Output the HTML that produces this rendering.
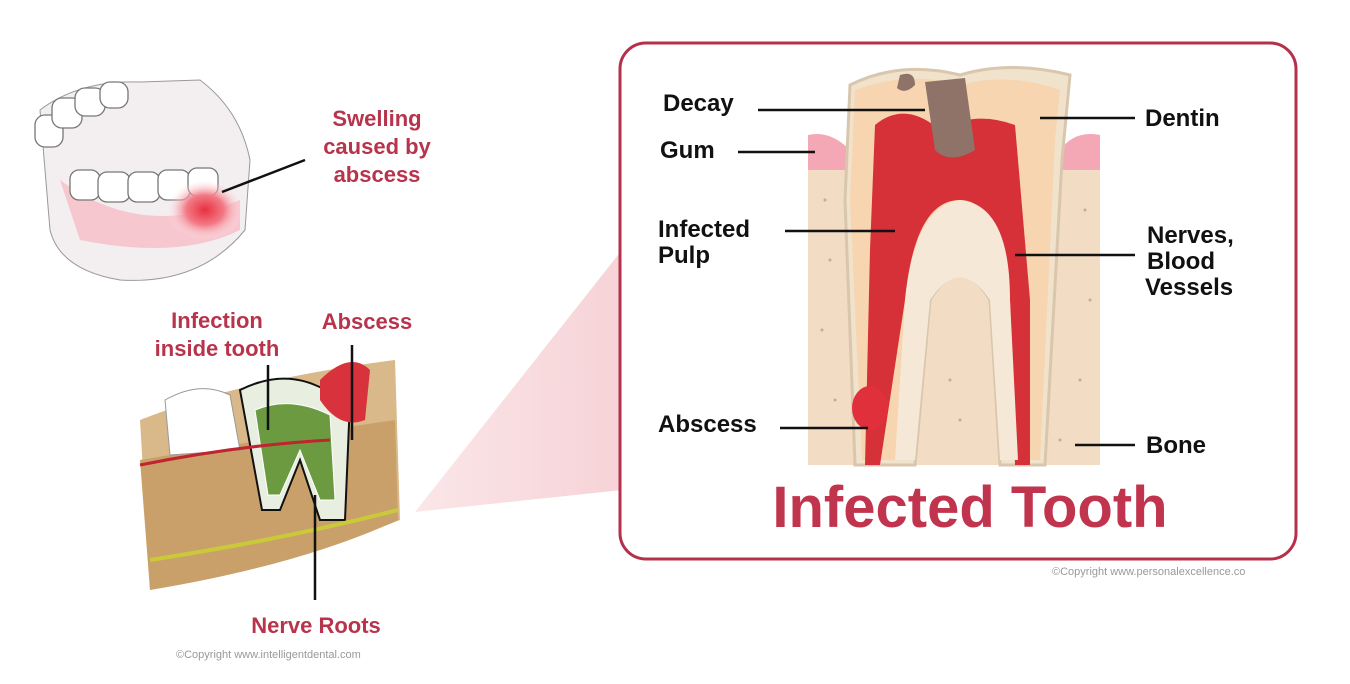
<!DOCTYPE html>
<html><head><meta charset="utf-8"><style>
html,body{margin:0;padding:0;background:#fff;}
svg{display:block;font-family:"Liberation Sans",Arial,sans-serif;}
.lb{font-weight:bold;font-size:24px;fill:#111;}
.rd{font-weight:bold;font-size:22px;fill:#b8334c;}
</style></head><body>
<svg width="1350" height="684" viewBox="0 0 1350 684">
<defs>
<radialGradient id="sw" cx="0.5" cy="0.5" r="0.5"><stop offset="0" stop-color="#e8303f"/><stop offset="0.5" stop-color="#f27a86"/><stop offset="1" stop-color="#fde8ea" stop-opacity="0"/></radialGradient>
<linearGradient id="pk" x1="0" x2="1"><stop offset="0" stop-color="#fbe6e8"/><stop offset="1" stop-color="#f6d3d7"/></linearGradient>
</defs>
<polygon points="415,512 622,250 622,490" fill="url(#pk)"/>
<rect x="620" y="43" width="676" height="516" rx="26" fill="#fff" stroke="#b5304a" stroke-width="3"/>
<rect x="808" y="150" width="292" height="315" fill="#f3dcc4"/>
<g fill="#c9ab8c">
<circle cx="825" cy="200" r="1.5"/><circle cx="830" cy="260" r="1.5"/><circle cx="822" cy="330" r="1.5"/><circle cx="835" cy="400" r="1.5"/><circle cx="1085" cy="210" r="1.5"/><circle cx="1090" cy="300" r="1.5"/><circle cx="1080" cy="380" r="1.5"/><circle cx="960" cy="420" r="1.5"/><circle cx="950" cy="380" r="1.5"/><circle cx="1060" cy="440" r="1.5"/>
</g>
<path d="M808,135 Q830,130 850,150 L850,170 L808,170Z" fill="#f4a7b4"/>
<path d="M1100,135 Q1075,130 1060,150 L1060,170 L1100,170Z" fill="#f4a7b4"/>
<path d="M850,85 Q900,60 960,75 Q1010,60 1070,75 L1062,160 L1045,465 L1000,465 L990,300 Q960,250 930,300 L915,465 L855,465 L845,200Z" fill="#f1e2cc" stroke="#d9c7ad" stroke-width="3"/>
<path d="M855,90 Q910,70 960,85 Q1010,72 1060,90 L1055,140 L1040,460 L1010,460 L1000,300 Q960,230 920,300 L905,460 L862,460 L850,200Z" fill="#f6d5b0"/>
<path d="M875,125 Q905,100 940,130 Q975,110 1015,125 L1030,300 L1030,465 L1015,465 L1010,300 Q1000,200 960,200 Q915,200 905,300 L880,465 L865,465 L870,250Z" fill="#d63038"/>
<path d="M960,200 Q1010,205 1010,300 L1018,460 L1000,460 L990,300 Q960,255 930,300 L915,460 L895,460 L905,300 Q915,205 960,200Z" fill="#f5e8d6"/>
<path d="M925,82 L965,78 L975,150 Q950,165 935,150Z" fill="#8f7369"/>
<path d="M900,75 Q915,70 915,85 Q905,95 897,88Z" fill="#8f7369"/>
<ellipse cx="870" cy="408" rx="18" ry="22" fill="#e0303c"/>
<g stroke="#111" stroke-width="2.5">
<line x1="758" y1="110" x2="925" y2="110"/>
<line x1="738" y1="152" x2="815" y2="152"/>
<line x1="785" y1="231" x2="895" y2="231"/>
<line x1="780" y1="428" x2="868" y2="428"/>
<line x1="1040" y1="118" x2="1135" y2="118"/>
<line x1="1015" y1="255" x2="1135" y2="255"/>
<line x1="1075" y1="445" x2="1135" y2="445"/>
</g>
<text x="663" y="111" class="lb">Decay</text>
<text x="660" y="158" class="lb">Gum</text>
<text x="658" y="237" class="lb">Infected</text>
<text x="658" y="263" class="lb">Pulp</text>
<text x="658" y="432" class="lb">Abscess</text>
<text x="1145" y="126" class="lb">Dentin</text>
<text x="1147" y="243" class="lb">Nerves,</text>
<text x="1147" y="269" class="lb">Blood</text>
<text x="1145" y="295" class="lb">Vessels</text>
<text x="1146" y="453" class="lb">Bone</text>
<text x="970" y="527" text-anchor="middle" font-weight="bold" font-size="58" fill="#c1344d">Infected Tooth</text>
<text x="1052" y="575" font-size="11" fill="#999">©Copyright www.personalexcellence.co</text>
<path d="M40,110 Q80,80 140,82 L200,80 Q240,110 250,160 L245,230 Q200,285 120,280 Q60,270 50,230Z" fill="#f3eef0" stroke="#999" stroke-width="1"/>
<path d="M60,180 Q140,240 240,200 L240,230 Q180,260 80,240Z" fill="#f7c7cf"/>
<g fill="#fff" stroke="#777" stroke-width="1.3">
<rect x="35" y="115" width="28" height="32" rx="10"/><rect x="52" y="98" width="30" height="30" rx="10"/><rect x="75" y="88" width="30" height="28" rx="10"/><rect x="100" y="82" width="28" height="26" rx="10"/>
<rect x="70" y="170" width="30" height="30" rx="9"/><rect x="98" y="172" width="32" height="30" rx="9"/><rect x="128" y="172" width="32" height="30" rx="9"/><rect x="158" y="170" width="32" height="30" rx="9"/><rect x="188" y="168" width="30" height="28" rx="9"/>
</g>
<ellipse cx="205" cy="210" rx="38" ry="30" fill="url(#sw)"/>
<line x1="222" y1="192" x2="305" y2="160" stroke="#111" stroke-width="2.5"/>
<text x="377" y="126" text-anchor="middle" class="rd">Swelling</text>
<text x="377" y="154" text-anchor="middle" class="rd">caused by</text>
<text x="377" y="182" text-anchor="middle" class="rd">abscess</text>
<path d="M140,420 Q240,380 395,360 L400,520 Q300,560 150,590 Z" fill="#d9b88a"/>
<path d="M140,460 Q260,440 395,420 L398,520 Q300,565 150,590Z" fill="#c9a06a"/>
<path d="M165,400 Q200,380 230,395 L240,450 L170,455Z" fill="#fff" stroke="#999"/>
<path d="M240,390 Q280,370 315,385 L350,400 L345,520 L320,520 L300,460 L280,510 L262,510 Z" fill="#e8efe0" stroke="#111" stroke-width="2"/>
<path d="M255,410 Q290,395 330,415 L335,500 L320,500 L300,450 L280,495 L268,495Z" fill="#6b9a40" stroke="#fff" stroke-width="1"/>
<path d="M320,380 Q350,350 370,370 L365,420 Q340,430 320,400Z" fill="#d8333c"/>
<path d="M140,465 Q240,445 330,440" stroke="#c0252f" stroke-width="3" fill="none"/>
<path d="M150,560 Q280,540 398,510" stroke="#c9c93a" stroke-width="4" fill="none"/>
<g stroke="#111" stroke-width="2.5">
<line x1="268" y1="365" x2="268" y2="430"/>
<line x1="352" y1="345" x2="352" y2="440"/>
<line x1="315" y1="495" x2="315" y2="600"/>
</g>
<text x="217" y="328" text-anchor="middle" class="rd">Infection</text>
<text x="217" y="356" text-anchor="middle" class="rd">inside tooth</text>
<text x="367" y="329" text-anchor="middle" class="rd">Abscess</text>
<text x="316" y="633" text-anchor="middle" class="rd">Nerve Roots</text>
<text x="176" y="658" font-size="11" fill="#999">©Copyright www.intelligentdental.com</text>
</svg>
</body></html>
